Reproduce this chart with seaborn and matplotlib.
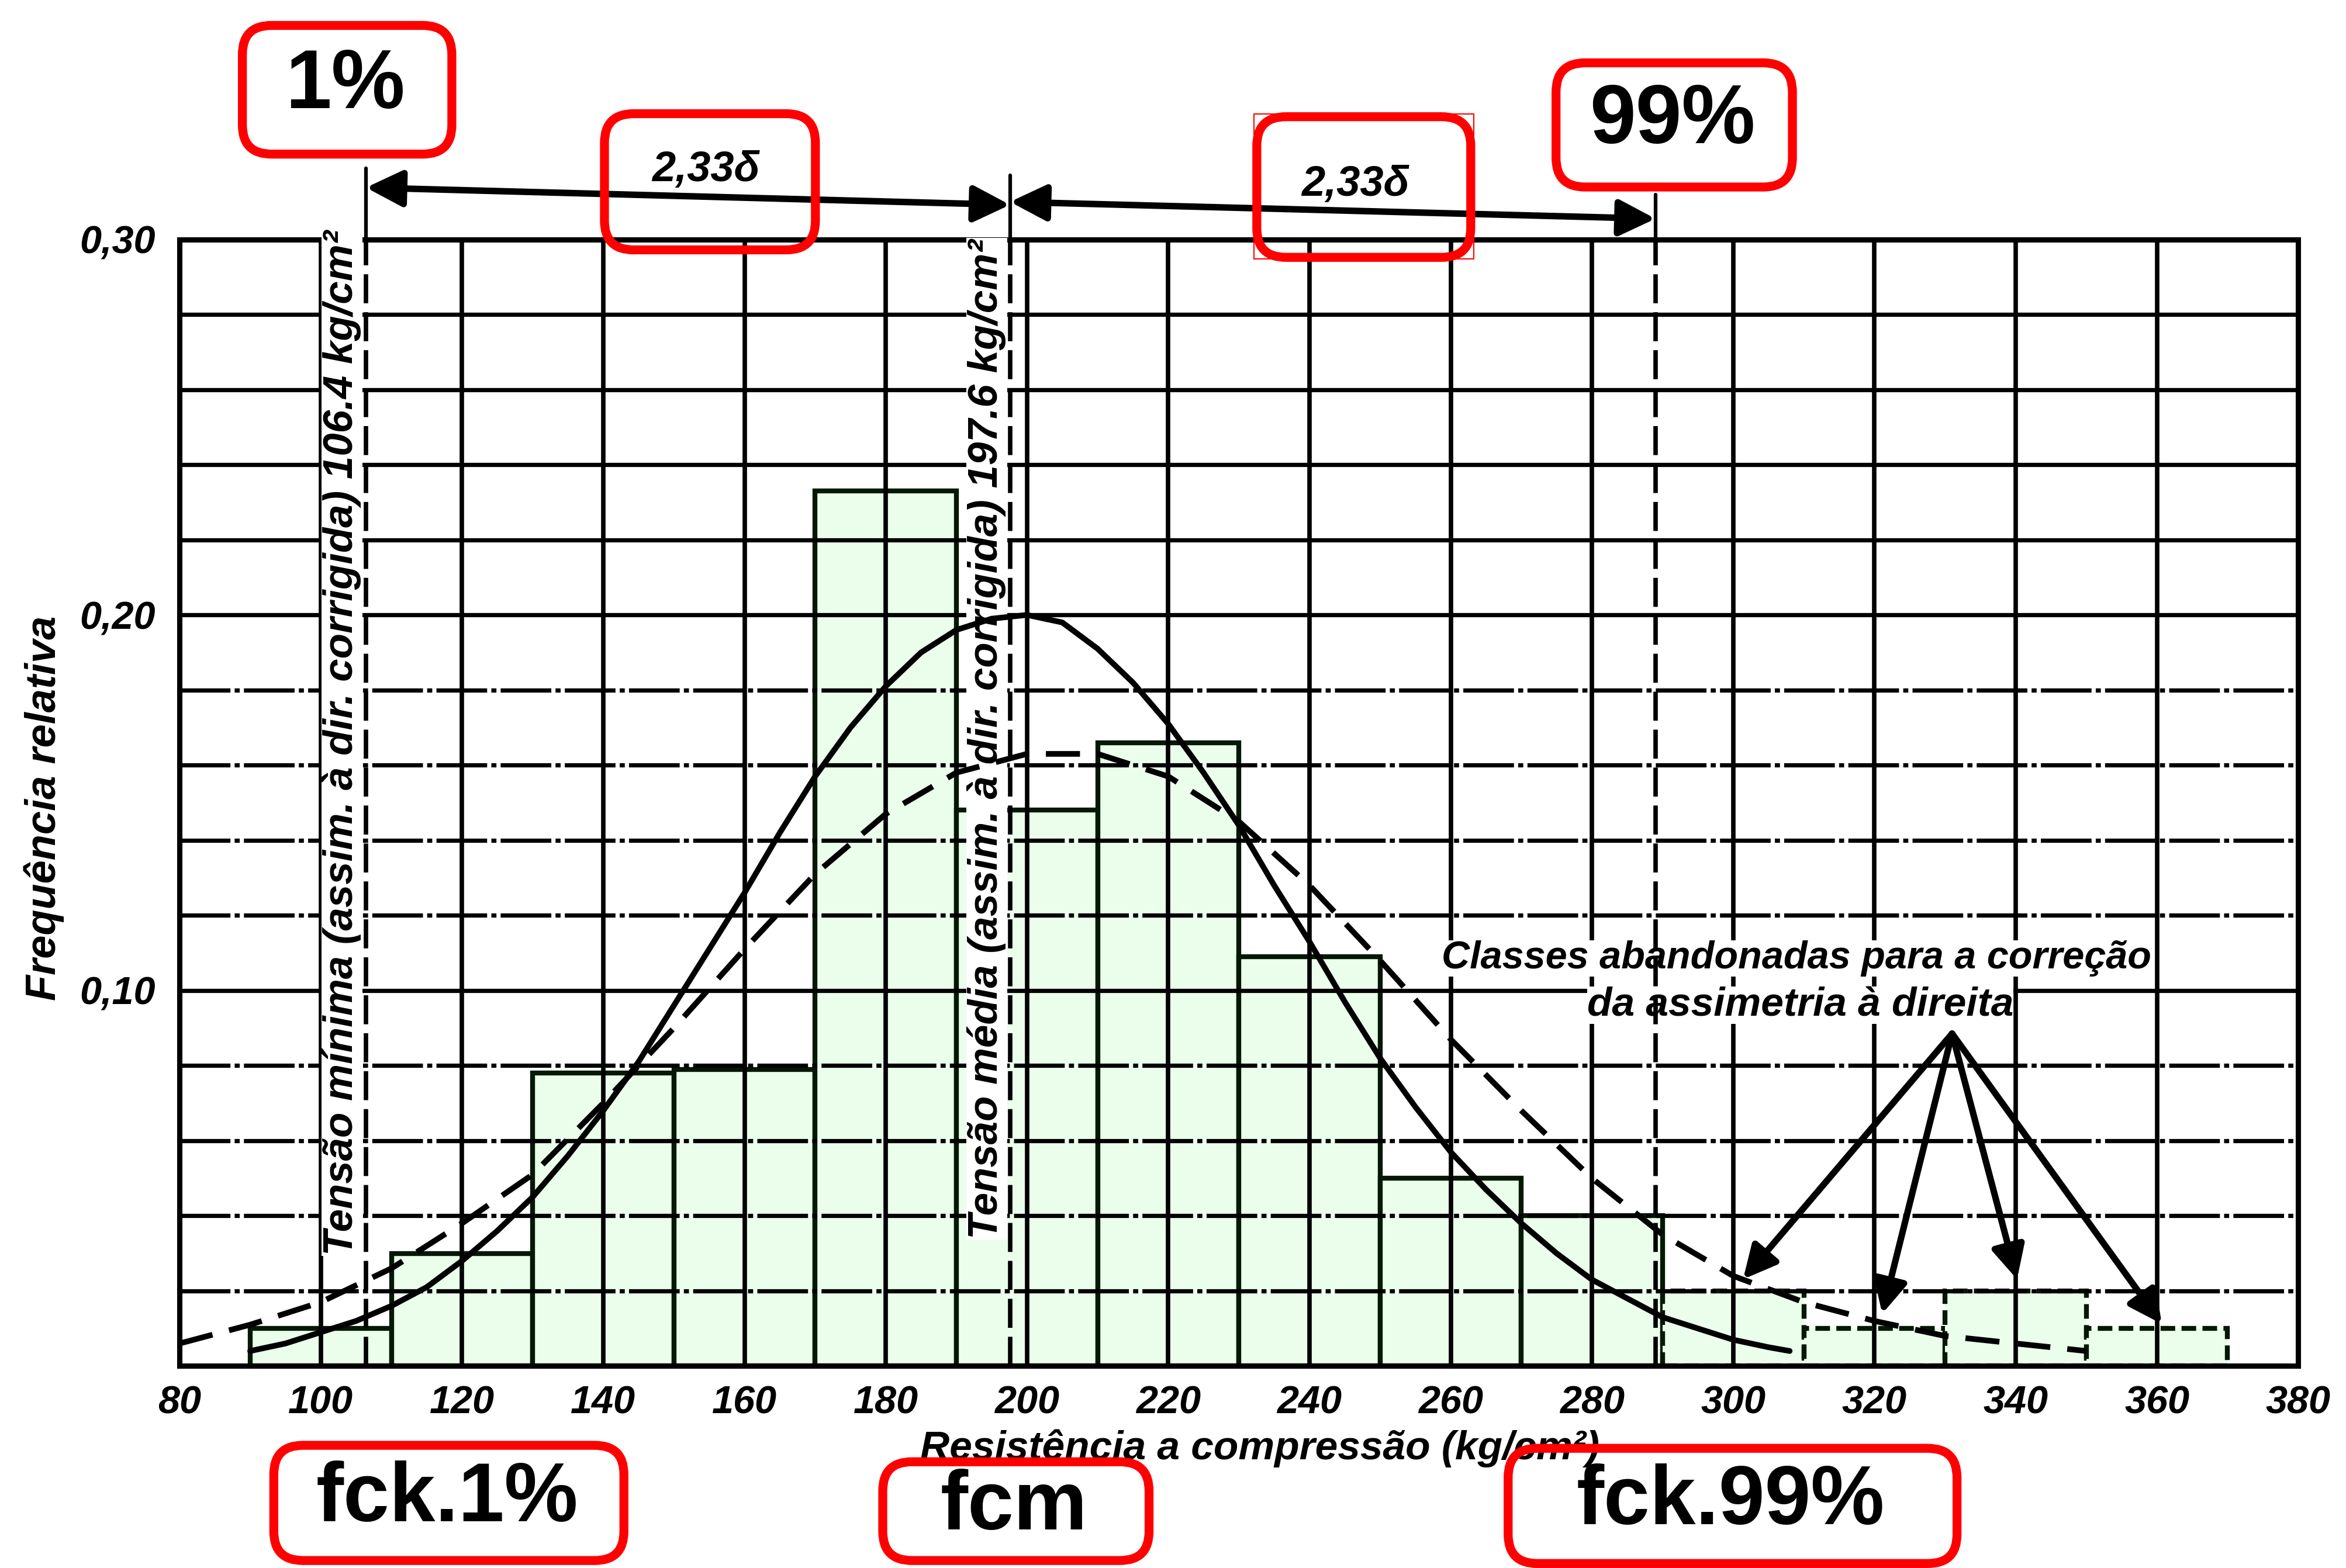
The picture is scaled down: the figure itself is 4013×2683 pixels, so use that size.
import numpy as np
import pandas as pd
import seaborn as sns
import matplotlib.pyplot as plt
from matplotlib import font_manager
from matplotlib.patches import FancyBboxPatch, Rectangle

# histogram classes (left edge, kg/cm2) and relative frequency
class_left = [90, 110, 130, 150, 170, 190, 210, 230, 250, 270]
class_freq = [0.010, 0.030, 0.078, 0.079, 0.233, 0.148, 0.166, 0.109, 0.050, 0.040]
# classes dropped for the right-asymmetry correction
dropped_left = [290, 310, 330, 350]
dropped_freq = [0.020, 0.010, 0.020, 0.010]
class_width = 20

# corrected normal curve (solid)
corr_x = [90, 95, 100, 105, 110, 115, 120, 125, 130, 135, 140, 145, 150, 155, 160,
          165, 170, 175, 180, 185, 190, 195, 200, 205, 210, 215, 220, 225, 230, 235,
          240, 245, 250, 255, 260, 265, 270, 275, 280, 285, 290, 295, 300, 305, 308]
corr_y = [0.004, 0.006, 0.009, 0.012, 0.016, 0.021, 0.028, 0.036, 0.045, 0.056, 0.068,
          0.081, 0.096, 0.111, 0.126, 0.142, 0.157, 0.170, 0.181, 0.190, 0.196, 0.199,
          0.200, 0.198, 0.191, 0.182, 0.171, 0.158, 0.144, 0.128, 0.113, 0.097, 0.082,
          0.069, 0.057, 0.047, 0.038, 0.030, 0.023, 0.018, 0.013, 0.010, 0.007, 0.005,
          0.004]
# uncorrected normal curve (dashed)
raw_x = [80, 90, 100, 110, 120, 130, 140, 150, 160, 170, 180, 190, 200, 210, 220,
         230, 240, 250, 260, 270, 280, 290, 300, 310, 320, 330, 340, 350]
raw_y = [0.006, 0.011, 0.017, 0.026, 0.038, 0.051, 0.070, 0.090, 0.111, 0.131, 0.147,
         0.158, 0.163, 0.163, 0.157, 0.145, 0.128, 0.108, 0.087, 0.068, 0.050, 0.035,
         0.024, 0.017, 0.012, 0.008, 0.006, 0.004]

f_min = 106.4
f_mean = 197.6
f_max = 289.0

xticks = list(range(80, 381, 20))
yticks = [0.10, 0.20, 0.30]
ytick_labels = ["0,10", "0,20", "0,30"]

sns.set_theme(style="white")
names = {f.name for f in font_manager.fontManager.ttflist}
sans = "Liberation Sans" if "Liberation Sans" in names else "DejaVu Sans"
plt.rcParams["font.family"] = [sans, "DejaVu Sans"]
for key in ["text.color", "axes.labelcolor", "xtick.color", "ytick.color"]:
    plt.rcParams[key] = "black"

W, H = 40.13, 26.83
fig = plt.figure(figsize=(W, H), dpi=100)
ax = fig.add_axes([120 / 1568, 135 / 1048, 1416 / 1568, 753 / 1048])

green = "#ebfdeb"
edge = "#041804"

hist = pd.DataFrame({"centre": [l + class_width / 2 for l in class_left], "freq": class_freq})
drop = pd.DataFrame({"centre": [l + class_width / 2 for l in dropped_left], "freq": dropped_freq})
sns.histplot(data=hist, x="centre", weights="freq", binwidth=class_width, binrange=(90, 290),
             ax=ax, color=green, alpha=1, edgecolor=edge, linewidth=6, zorder=1)
sns.histplot(data=drop, x="centre", weights="freq", binwidth=class_width, binrange=(290, 370),
             ax=ax, color=green, alpha=1, edgecolor=edge, linewidth=6, linestyle=(0, (3, 1.3)),
             zorder=1)

# grid drawn over the bars
for yv in np.arange(0.02, 0.30, 0.02):
    solid = yv > 0.205 or abs(yv - 0.10) < 1e-6 or abs(yv - 0.20) < 1e-6
    ax.axhline(yv, color="black", lw=5.2, zorder=2.5,
               ls="-" if solid else (0, (12, 1.0, 1.2, 1.0)))
for xv in xticks[1:-1]:
    ax.axvline(xv, color="black", lw=5.5, zorder=2.5)

sns.lineplot(x=corr_x, y=corr_y, ax=ax, color="black", linewidth=7, zorder=5.5)
sns.lineplot(x=raw_x, y=raw_y, ax=ax, color="black", linewidth=7, zorder=5.5)
ax.lines[-1].set_dashes([6, 3])

ax.set_xlim(80, 380)
ax.set_ylim(0, 0.30)
ax.set_xticks(xticks)
ax.set_xticklabels([str(t) for t in xticks], fontsize=48, fontstyle="italic",
                   fontweight="bold")
ax.set_yticks(yticks)
ax.set_yticklabels(ytick_labels, fontsize=48, fontstyle="italic", fontweight="bold")
ax.tick_params(axis="x", length=0, pad=24)
ax.tick_params(axis="y", length=0, pad=30)
for s in ax.spines.values():
    s.set_linewidth(6.5)
    s.set_color("black")

ax.set_xlabel("Resistência a compressão (kg/cm²)", fontsize=50, fontstyle="italic",
              fontweight="bold", va="center")
ax.xaxis.set_label_coords(0.51, -0.073)
ax.set_ylabel("Frequência relativa", fontsize=52, fontstyle="italic", fontweight="bold",
              va="center")
ax.yaxis.set_label_coords(-0.064, 0.495)

txt = dict(rotation=90, ha="center", va="center", fontsize=51, fontstyle="italic",
           fontweight="bold", zorder=5, bbox=dict(facecolor="white", edgecolor="none", pad=1))
ax.text(103.0, 0.166, "Tensão mínima (assim. à dir. corrigida) 106.4 kg/cm²", **txt)
ax.text(194.3, 0.167, "Tensão média (assim. à dir. corrigida) 197.6 kg/cm²", **txt)

# limit lines, above the text backgrounds
for xv, top in [(f_min, 0.319), (f_mean, 0.317), (f_max, 0.312)]:
    ax.plot([xv, xv], [0, 0.300], color="black", lw=5.5, ls=(0, (6.5, 2)), zorder=6,
            clip_on=False)
    ax.plot([xv, xv], [0.300, top], color="black", lw=4.5, zorder=6, clip_on=False)

ax.text(309, 0.1085, "Classes abandonadas para a correção", ha="center", va="center",
        fontsize=48, fontstyle="italic", fontweight="bold", zorder=5,
        bbox=dict(facecolor="white", edgecolor="none", pad=0))
ax.text(309.5, 0.0960, "da assimetria à direita", ha="center", va="center",
        fontsize=50, fontstyle="italic", fontweight="bold", zorder=5,
        bbox=dict(facecolor="white", edgecolor="none", pad=0))
for tx, ty in [(301.4, 0.0231), (321.1, 0.0139), (340.2, 0.0231), (360.7, 0.0112)]:
    ax.annotate("", xy=(tx, ty), xytext=(331, 0.0885),
                arrowprops=dict(arrowstyle="-|>", lw=8, color="black", mutation_scale=85,
                                shrinkA=0, shrinkB=0), zorder=7)

# 2,33 sigma spans above the frame
ax.annotate("", xy=(f_min, 0.3138), xytext=(f_mean, 0.3092), annotation_clip=False,
            arrowprops=dict(arrowstyle="<|-|>", lw=8, color="black", mutation_scale=95,
                            shrinkA=0, shrinkB=0))
ax.annotate("", xy=(f_mean, 0.3100), xytext=(f_max, 0.3055), annotation_clip=False,
            arrowprops=dict(arrowstyle="<|-|>", lw=8, color="black", mutation_scale=95,
                            shrinkA=0, shrinkB=0))
ax.text(154.5, 0.3185, "2,33δ", ha="center", va="center", fontsize=52, fontstyle="italic",
        fontweight="bold", clip_on=False)
ax.text(246.5, 0.3145, "2,33δ", ha="center", va="center", fontsize=52, fontstyle="italic",
        fontweight="bold", clip_on=False)


def to_in(x, y):
    return x / 1568 * W, (1 - y / 1048) * H


# red call-out boxes (display pixel corners)
boxes = [("1%", (162, 17, 302, 103)), ("99%", (1040, 42, 1198, 125)),
         ("fck.1%", (183, 966, 417, 1043)), ("fcm", (590, 977, 768, 1043)),
         ("fck.99%", (1008, 968, 1308, 1045)), ("", (404, 76, 545, 167)),
         ("", (840, 78, 983, 172))]
for label, (x0, y0, x1, y1) in boxes:
    ax0, ay1 = to_in(x0, y0)
    ax1, ay0 = to_in(x1, y1)
    fig.add_artist(FancyBboxPatch((ax0, ay0), ax1 - ax0, ay1 - ay0,
                                  boxstyle="round,pad=0,rounding_size=0.5",
                                  transform=fig.dpi_scale_trans, fill=False,
                                  edgecolor="#ff0000", lw=11, zorder=10))
    if label:
        fig.text((ax0 + ax1) / 2 - 0.03, (ay0 + ay1) / 2 + 0.06, label,
                 transform=fig.dpi_scale_trans, ha="center", va="center", fontsize=102,
                 fontweight="bold", zorder=11)
rx0, ry1 = to_in(838, 76)
rx1, ry0 = to_in(985, 173)
fig.add_artist(Rectangle((rx0, ry0), rx1 - rx0, ry1 - ry0, transform=fig.dpi_scale_trans,
                         fill=False, edgecolor="#ff0000", lw=1.5))

fig.savefig("out.png", dpi=100)
